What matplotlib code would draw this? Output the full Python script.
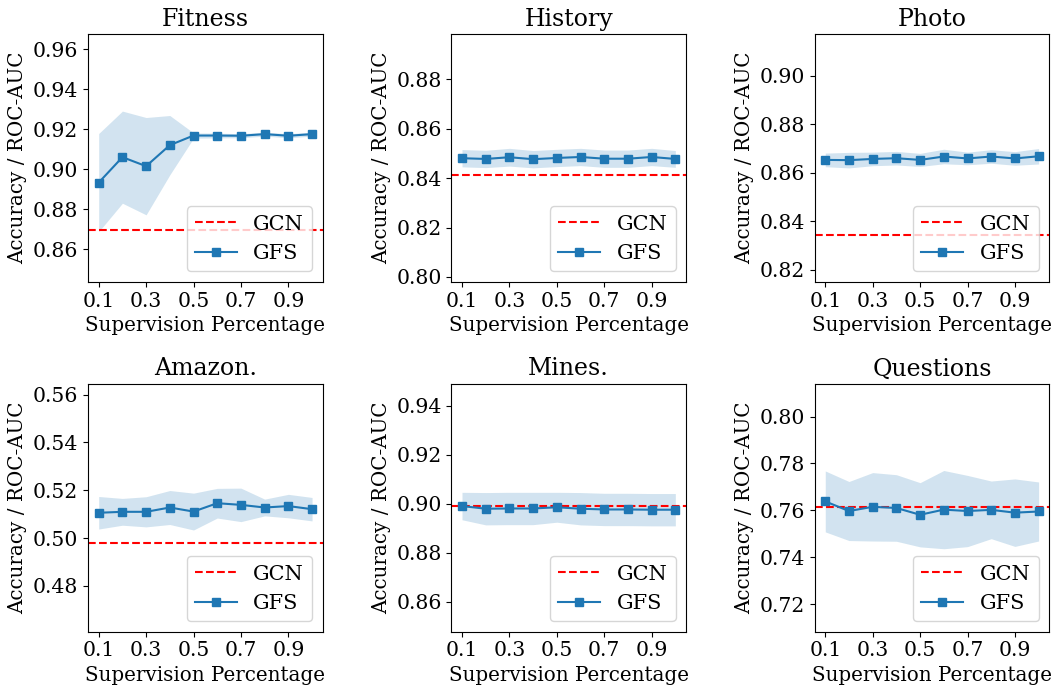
import numpy as np
import matplotlib.pyplot as plt
from matplotlib.ticker import MultipleLocator

plt.rcParams["font.family"] = "DejaVu Serif"

# supervision fractions shared by every dataset
sup_pct = [0.1, 0.2, 0.3, 0.4, 0.5, 0.6, 0.7, 0.8, 0.9, 1.0]

datasets = ["Fitness", "History", "Photo", "Amazon.", "Mines.", "Questions"]

# GFS mean per supervision fraction
fitness_mean = [0.8933, 0.9060, 0.9015, 0.9120, 0.9168, 0.9168, 0.9167, 0.9175, 0.9167, 0.9175]
history_mean = [0.8481, 0.8478, 0.8485, 0.8477, 0.8482, 0.8486, 0.8479, 0.8479, 0.8486, 0.8478]
photo_mean = [0.8653, 0.8652, 0.8657, 0.8660, 0.8653, 0.8667, 0.8659, 0.8667, 0.8659, 0.8668]
amazon_mean = [0.5106, 0.5110, 0.5110, 0.5128, 0.5111, 0.5146, 0.5139, 0.5128, 0.5134, 0.5121]
mines_mean = [0.8991, 0.8980, 0.8981, 0.8981, 0.8986, 0.8980, 0.8977, 0.8977, 0.8976, 0.8976]
questions_mean = [0.7638, 0.7597, 0.7615, 0.7610, 0.7581, 0.7603, 0.7597, 0.7602, 0.7590, 0.7595]

# GFS standard deviation
fitness_std = [0.0245, 0.0230, 0.0243, 0.0148, 0.0013, 0.0012, 0.0010, 0.0010, 0.0010, 0.0010]
history_std = [0.0035, 0.0035, 0.0036, 0.0035, 0.0035, 0.0035, 0.0035, 0.0035, 0.0035, 0.0034]
photo_std = [0.0028, 0.0032, 0.0028, 0.0028, 0.0027, 0.0030, 0.0026, 0.0028, 0.0028, 0.0032]
amazon_std = [0.0068, 0.0056, 0.0063, 0.0071, 0.0077, 0.0062, 0.0070, 0.0035, 0.0049, 0.0049]
mines_std = [0.0056, 0.0066, 0.0066, 0.0066, 0.0061, 0.0066, 0.0066, 0.0066, 0.0066, 0.0066]
questions_std = [0.0130, 0.0126, 0.0146, 0.0142, 0.0137, 0.0167, 0.0152, 0.0123, 0.0144, 0.0126]

# GCN baseline per dataset
gcn_baseline = [0.8695, 0.8415, 0.8344, 0.4980, 0.8992, 0.7613]

# y-axis range per panel
y_limits = [(0.8437, 0.9675), (0.798, 0.8984), (0.815, 0.9172),
            (0.4609, 0.5645), (0.8478, 0.949), (0.7082, 0.814)]

means = [fitness_mean, history_mean, photo_mean, amazon_mean, mines_mean, questions_mean]
stds = [fitness_std, history_std, photo_std, amazon_std, mines_std, questions_std]

fig, axes = plt.subplots(2, 3, figsize=(10.57, 6.9), dpi=100)
fig.subplots_adjust(left=0.0833, right=0.9927, top=0.9507, bottom=0.0845,
                    wspace=0.548, hspace=0.411)

x = np.array(sup_pct)
for ax, name, m, s, gcn, ylim in zip(axes.flat, datasets, means, stds, gcn_baseline, y_limits):
    m = np.array(m)
    s = np.array(s)
    ax.axhline(gcn, color="red", linestyle="--", linewidth=1.5, label="GCN")
    ax.plot(x, m, color="tab:blue", marker="s", markersize=6, linewidth=1.5, label="GFS")
    ax.fill_between(x, m - s, m + s, color="tab:blue", alpha=0.2, linewidth=0)
    ax.set_ylim(*ylim)
    ax.yaxis.set_major_locator(MultipleLocator(0.02))
    ax.set_xticks([0.1, 0.3, 0.5, 0.7, 0.9])
    ax.set_title(name, fontsize=17)
    ax.set_xlabel("Supervision Percentage", fontsize=14.3)
    ax.set_ylabel("Accuracy / ROC-AUC", fontsize=14.3)
    ax.tick_params(labelsize=14.7)
    ax.legend(loc="lower right", fontsize=15)

fig.savefig("out.png", dpi=100)
